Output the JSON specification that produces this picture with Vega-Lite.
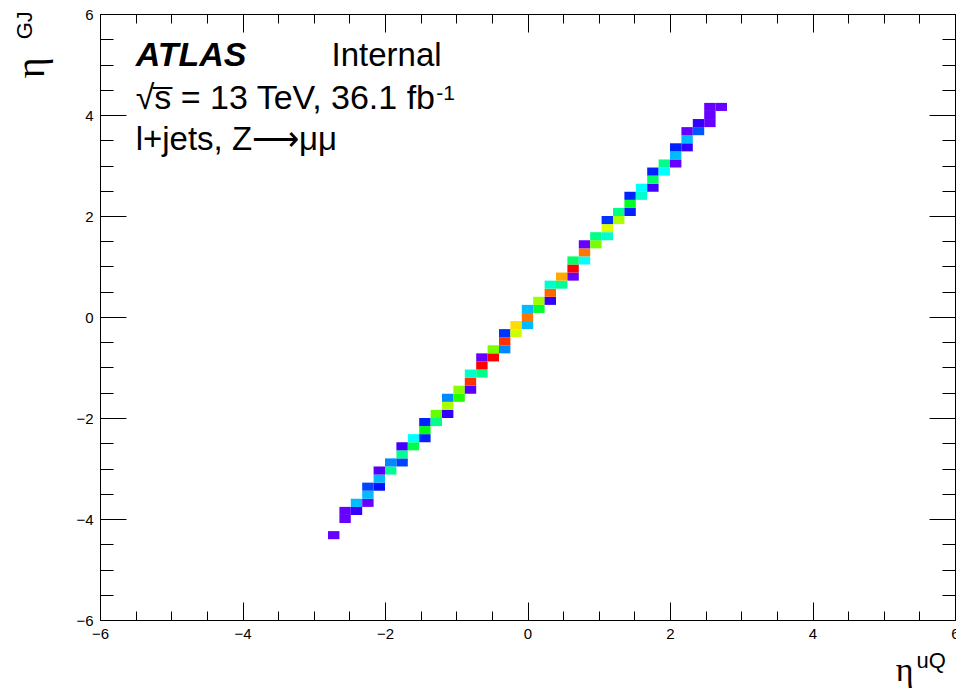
{
  "$schema": "https://vega.github.io/schema/vega-lite/v6.json",
  "width": 855,
  "height": 606,
  "autosize": {"type": "none"},
  "padding": {"left": 100, "top": 14, "right": 1, "bottom": 73},
  "background": "white",
  "config": {
    "view": {"stroke": "black", "strokeWidth": 1},
    "font": "Liberation Sans"
  },
  "resolve": {"axis": {"x": "independent", "y": "independent"}},
  "layer": [
    {
      "data": {"values": [
        {"eta_uQ_lo":-2.80,"eta_uQ_hi":-2.64,"eta_GJ_lo":-4.40,"eta_GJ_hi":-4.24,"z":0},
        {"eta_uQ_lo":-2.64,"eta_uQ_hi":-2.48,"eta_GJ_lo":-4.08,"eta_GJ_hi":-3.92,"z":0},
        {"eta_uQ_lo":-2.64,"eta_uQ_hi":-2.48,"eta_GJ_lo":-3.92,"eta_GJ_hi":-3.76,"z":0},
        {"eta_uQ_lo":-2.48,"eta_uQ_hi":-2.32,"eta_GJ_lo":-3.92,"eta_GJ_hi":-3.76,"z":12},
        {"eta_uQ_lo":-2.48,"eta_uQ_hi":-2.32,"eta_GJ_lo":-3.76,"eta_GJ_hi":-3.60,"z":68},
        {"eta_uQ_lo":-2.32,"eta_uQ_hi":-2.16,"eta_GJ_lo":-3.76,"eta_GJ_hi":-3.60,"z":0},
        {"eta_uQ_lo":-2.32,"eta_uQ_hi":-2.16,"eta_GJ_lo":-3.60,"eta_GJ_hi":-3.44,"z":68},
        {"eta_uQ_lo":-2.32,"eta_uQ_hi":-2.16,"eta_GJ_lo":-3.44,"eta_GJ_hi":-3.28,"z":40},
        {"eta_uQ_lo":-2.16,"eta_uQ_hi":-2.00,"eta_GJ_lo":-3.44,"eta_GJ_hi":-3.28,"z":28},
        {"eta_uQ_lo":-2.16,"eta_uQ_hi":-2.00,"eta_GJ_lo":-3.28,"eta_GJ_hi":-3.12,"z":68},
        {"eta_uQ_lo":-2.16,"eta_uQ_hi":-2.00,"eta_GJ_lo":-3.12,"eta_GJ_hi":-2.96,"z":4},
        {"eta_uQ_lo":-2.00,"eta_uQ_hi":-1.84,"eta_GJ_lo":-3.12,"eta_GJ_hi":-2.96,"z":110},
        {"eta_uQ_lo":-2.00,"eta_uQ_hi":-1.84,"eta_GJ_lo":-2.96,"eta_GJ_hi":-2.80,"z":56},
        {"eta_uQ_lo":-1.84,"eta_uQ_hi":-1.68,"eta_GJ_lo":-2.96,"eta_GJ_hi":-2.80,"z":40},
        {"eta_uQ_lo":-1.84,"eta_uQ_hi":-1.68,"eta_GJ_lo":-2.80,"eta_GJ_hi":-2.64,"z":110},
        {"eta_uQ_lo":-1.84,"eta_uQ_hi":-1.68,"eta_GJ_lo":-2.64,"eta_GJ_hi":-2.48,"z":8},
        {"eta_uQ_lo":-1.68,"eta_uQ_hi":-1.52,"eta_GJ_lo":-2.64,"eta_GJ_hi":-2.48,"z":126},
        {"eta_uQ_lo":-1.68,"eta_uQ_hi":-1.52,"eta_GJ_lo":-2.48,"eta_GJ_hi":-2.32,"z":84},
        {"eta_uQ_lo":-1.52,"eta_uQ_hi":-1.36,"eta_GJ_lo":-2.48,"eta_GJ_hi":-2.32,"z":32},
        {"eta_uQ_lo":-1.52,"eta_uQ_hi":-1.36,"eta_GJ_lo":-2.32,"eta_GJ_hi":-2.16,"z":140},
        {"eta_uQ_lo":-1.52,"eta_uQ_hi":-1.36,"eta_GJ_lo":-2.16,"eta_GJ_hi":-2.00,"z":32},
        {"eta_uQ_lo":-1.36,"eta_uQ_hi":-1.20,"eta_GJ_lo":-2.16,"eta_GJ_hi":-2.00,"z":112},
        {"eta_uQ_lo":-1.36,"eta_uQ_hi":-1.20,"eta_GJ_lo":-2.00,"eta_GJ_hi":-1.84,"z":168},
        {"eta_uQ_lo":-1.20,"eta_uQ_hi":-1.04,"eta_GJ_lo":-2.00,"eta_GJ_hi":-1.84,"z":12},
        {"eta_uQ_lo":-1.20,"eta_uQ_hi":-1.04,"eta_GJ_lo":-1.84,"eta_GJ_hi":-1.68,"z":184},
        {"eta_uQ_lo":-1.20,"eta_uQ_hi":-1.04,"eta_GJ_lo":-1.68,"eta_GJ_hi":-1.52,"z":56},
        {"eta_uQ_lo":-1.04,"eta_uQ_hi":-0.88,"eta_GJ_lo":-1.68,"eta_GJ_hi":-1.52,"z":152},
        {"eta_uQ_lo":-1.04,"eta_uQ_hi":-0.88,"eta_GJ_lo":-1.52,"eta_GJ_hi":-1.36,"z":176},
        {"eta_uQ_lo":-0.88,"eta_uQ_hi":-0.72,"eta_GJ_lo":-1.52,"eta_GJ_hi":-1.36,"z":4},
        {"eta_uQ_lo":-0.88,"eta_uQ_hi":-0.72,"eta_GJ_lo":-1.36,"eta_GJ_hi":-1.20,"z":252},
        {"eta_uQ_lo":-0.88,"eta_uQ_hi":-0.72,"eta_GJ_lo":-1.20,"eta_GJ_hi":-1.04,"z":96},
        {"eta_uQ_lo":-0.72,"eta_uQ_hi":-0.56,"eta_GJ_lo":-1.20,"eta_GJ_hi":-1.04,"z":112},
        {"eta_uQ_lo":-0.72,"eta_uQ_hi":-0.56,"eta_GJ_lo":-1.04,"eta_GJ_hi":-0.88,"z":264},
        {"eta_uQ_lo":-0.72,"eta_uQ_hi":-0.56,"eta_GJ_lo":-0.88,"eta_GJ_hi":-0.72,"z":0},
        {"eta_uQ_lo":-0.56,"eta_uQ_hi":-0.40,"eta_GJ_lo":-0.88,"eta_GJ_hi":-0.72,"z":264},
        {"eta_uQ_lo":-0.56,"eta_uQ_hi":-0.40,"eta_GJ_lo":-0.72,"eta_GJ_hi":-0.56,"z":172},
        {"eta_uQ_lo":-0.40,"eta_uQ_hi":-0.24,"eta_GJ_lo":-0.72,"eta_GJ_hi":-0.56,"z":56},
        {"eta_uQ_lo":-0.40,"eta_uQ_hi":-0.24,"eta_GJ_lo":-0.56,"eta_GJ_hi":-0.40,"z":252},
        {"eta_uQ_lo":-0.40,"eta_uQ_hi":-0.24,"eta_GJ_lo":-0.40,"eta_GJ_hi":-0.24,"z":36},
        {"eta_uQ_lo":-0.24,"eta_uQ_hi":-0.08,"eta_GJ_lo":-0.40,"eta_GJ_hi":-0.24,"z":192},
        {"eta_uQ_lo":-0.24,"eta_uQ_hi":-0.08,"eta_GJ_lo":-0.24,"eta_GJ_hi":-0.08,"z":212},
        {"eta_uQ_lo":-0.08,"eta_uQ_hi":0.08,"eta_GJ_lo":-0.24,"eta_GJ_hi":-0.08,"z":68},
        {"eta_uQ_lo":-0.08,"eta_uQ_hi":0.08,"eta_GJ_lo":-0.08,"eta_GJ_hi":0.08,"z":236},
        {"eta_uQ_lo":-0.08,"eta_uQ_hi":0.08,"eta_GJ_lo":0.08,"eta_GJ_hi":0.24,"z":68},
        {"eta_uQ_lo":0.08,"eta_uQ_hi":0.24,"eta_GJ_lo":0.08,"eta_GJ_hi":0.24,"z":132},
        {"eta_uQ_lo":0.08,"eta_uQ_hi":0.24,"eta_GJ_lo":0.24,"eta_GJ_hi":0.40,"z":180},
        {"eta_uQ_lo":0.24,"eta_uQ_hi":0.40,"eta_GJ_lo":0.24,"eta_GJ_hi":0.40,"z":12},
        {"eta_uQ_lo":0.24,"eta_uQ_hi":0.40,"eta_GJ_lo":0.40,"eta_GJ_hi":0.56,"z":240},
        {"eta_uQ_lo":0.24,"eta_uQ_hi":0.40,"eta_GJ_lo":0.56,"eta_GJ_hi":0.72,"z":96},
        {"eta_uQ_lo":0.40,"eta_uQ_hi":0.56,"eta_GJ_lo":0.56,"eta_GJ_hi":0.72,"z":108},
        {"eta_uQ_lo":0.40,"eta_uQ_hi":0.56,"eta_GJ_lo":0.72,"eta_GJ_hi":0.88,"z":224},
        {"eta_uQ_lo":0.56,"eta_uQ_hi":0.72,"eta_GJ_lo":0.72,"eta_GJ_hi":0.88,"z":0},
        {"eta_uQ_lo":0.56,"eta_uQ_hi":0.72,"eta_GJ_lo":0.88,"eta_GJ_hi":1.04,"z":264},
        {"eta_uQ_lo":0.56,"eta_uQ_hi":0.72,"eta_GJ_lo":1.04,"eta_GJ_hi":1.20,"z":120},
        {"eta_uQ_lo":0.72,"eta_uQ_hi":0.88,"eta_GJ_lo":1.04,"eta_GJ_hi":1.20,"z":84},
        {"eta_uQ_lo":0.72,"eta_uQ_hi":0.88,"eta_GJ_lo":1.20,"eta_GJ_hi":1.36,"z":236},
        {"eta_uQ_lo":0.72,"eta_uQ_hi":0.88,"eta_GJ_lo":1.36,"eta_GJ_hi":1.52,"z":0},
        {"eta_uQ_lo":0.88,"eta_uQ_hi":1.04,"eta_GJ_lo":1.36,"eta_GJ_hi":1.52,"z":172},
        {"eta_uQ_lo":0.88,"eta_uQ_hi":1.04,"eta_GJ_lo":1.52,"eta_GJ_hi":1.68,"z":112},
        {"eta_uQ_lo":1.04,"eta_uQ_hi":1.20,"eta_GJ_lo":1.52,"eta_GJ_hi":1.68,"z":96},
        {"eta_uQ_lo":1.04,"eta_uQ_hi":1.20,"eta_GJ_lo":1.68,"eta_GJ_hi":1.84,"z":196},
        {"eta_uQ_lo":1.04,"eta_uQ_hi":1.20,"eta_GJ_lo":1.84,"eta_GJ_hi":2.00,"z":36},
        {"eta_uQ_lo":1.20,"eta_uQ_hi":1.36,"eta_GJ_lo":1.84,"eta_GJ_hi":2.00,"z":184},
        {"eta_uQ_lo":1.20,"eta_uQ_hi":1.36,"eta_GJ_lo":2.00,"eta_GJ_hi":2.16,"z":112},
        {"eta_uQ_lo":1.36,"eta_uQ_hi":1.52,"eta_GJ_lo":2.00,"eta_GJ_hi":2.16,"z":32},
        {"eta_uQ_lo":1.36,"eta_uQ_hi":1.52,"eta_GJ_lo":2.16,"eta_GJ_hi":2.32,"z":136},
        {"eta_uQ_lo":1.36,"eta_uQ_hi":1.52,"eta_GJ_lo":2.32,"eta_GJ_hi":2.48,"z":32},
        {"eta_uQ_lo":1.52,"eta_uQ_hi":1.68,"eta_GJ_lo":2.32,"eta_GJ_hi":2.48,"z":96},
        {"eta_uQ_lo":1.52,"eta_uQ_hi":1.68,"eta_GJ_lo":2.48,"eta_GJ_hi":2.64,"z":84},
        {"eta_uQ_lo":1.68,"eta_uQ_hi":1.84,"eta_GJ_lo":2.48,"eta_GJ_hi":2.64,"z":8},
        {"eta_uQ_lo":1.68,"eta_uQ_hi":1.84,"eta_GJ_lo":2.64,"eta_GJ_hi":2.80,"z":120},
        {"eta_uQ_lo":1.68,"eta_uQ_hi":1.84,"eta_GJ_lo":2.80,"eta_GJ_hi":2.96,"z":32},
        {"eta_uQ_lo":1.84,"eta_uQ_hi":2.00,"eta_GJ_lo":2.80,"eta_GJ_hi":2.96,"z":84},
        {"eta_uQ_lo":1.84,"eta_uQ_hi":2.00,"eta_GJ_lo":2.96,"eta_GJ_hi":3.12,"z":112},
        {"eta_uQ_lo":2.00,"eta_uQ_hi":2.16,"eta_GJ_lo":2.96,"eta_GJ_hi":3.12,"z":0},
        {"eta_uQ_lo":2.00,"eta_uQ_hi":2.16,"eta_GJ_lo":3.12,"eta_GJ_hi":3.28,"z":68},
        {"eta_uQ_lo":2.00,"eta_uQ_hi":2.16,"eta_GJ_lo":3.28,"eta_GJ_hi":3.44,"z":32},
        {"eta_uQ_lo":2.16,"eta_uQ_hi":2.32,"eta_GJ_lo":3.28,"eta_GJ_hi":3.44,"z":12},
        {"eta_uQ_lo":2.16,"eta_uQ_hi":2.32,"eta_GJ_lo":3.44,"eta_GJ_hi":3.60,"z":68},
        {"eta_uQ_lo":2.16,"eta_uQ_hi":2.32,"eta_GJ_lo":3.60,"eta_GJ_hi":3.76,"z":0},
        {"eta_uQ_lo":2.32,"eta_uQ_hi":2.48,"eta_GJ_lo":3.60,"eta_GJ_hi":3.76,"z":44},
        {"eta_uQ_lo":2.32,"eta_uQ_hi":2.48,"eta_GJ_lo":3.76,"eta_GJ_hi":3.92,"z":12},
        {"eta_uQ_lo":2.48,"eta_uQ_hi":2.64,"eta_GJ_lo":3.76,"eta_GJ_hi":3.92,"z":0},
        {"eta_uQ_lo":2.48,"eta_uQ_hi":2.64,"eta_GJ_lo":3.92,"eta_GJ_hi":4.08,"z":0},
        {"eta_uQ_lo":2.48,"eta_uQ_hi":2.64,"eta_GJ_lo":4.08,"eta_GJ_hi":4.24,"z":0},
        {"eta_uQ_lo":2.64,"eta_uQ_hi":2.80,"eta_GJ_lo":4.08,"eta_GJ_hi":4.24,"z":0}
      ]},
      "mark": {"type": "rect", "strokeWidth": 0},
      "encoding": {
        "x": {"field": "eta_uQ_lo", "type": "quantitative",
              "scale": {"domain": [-6, 6], "nice": false, "zero": false},
              "axis": {"orient": "bottom", "title": null, "values": [-6, -4, -2, 0, 2, 4, 6], "format": "d",
                       "ticks": false, "tickSize": 0, "domain": false, "grid": false,
                       "labelFont": "Liberation Sans", "labelFontSize": 15, "labelColor": "black",
                       "labelPadding": 6, "labelFlush": false, "labelOverlap": false, "labelBound": false}},
        "x2": {"field": "eta_uQ_hi"},
        "y": {"field": "eta_GJ_lo", "type": "quantitative",
              "scale": {"domain": [-6, 6], "nice": false, "zero": false},
              "axis": {"orient": "left", "title": null, "values": [-6, -4, -2, 0, 2, 4, 6], "format": "d",
                       "ticks": false, "tickSize": 0, "domain": false, "grid": false,
                       "labelFont": "Liberation Sans", "labelFontSize": 15, "labelColor": "black",
                       "labelPadding": 7, "labelFlush": false, "labelOverlap": false, "labelBound": false}},
        "y2": {"field": "eta_GJ_hi"},
        "color": {"field": "z", "type": "quantitative", "legend": null,
                  "scale": {"type": "linear", "domain": [0, 84, 204, 264],
                            "range": ["#6600ff", "#00ffff", "#ffff00", "#ff0000"], "interpolate": "hsl"}}
      }
    },
    {
      "data": {"values": [{"label": "ATLAS", "eta_uQ": -5.5, "eta_GJ": 4.98}]},
      "mark": {"type": "text", "font": "Liberation Sans", "fontStyle": "italic", "fontWeight": "bold",
               "fontSize": 34, "align": "left", "baseline": "alphabetic", "color": "black"},
      "encoding": {
        "x": {"field": "eta_uQ", "type": "quantitative",
              "scale": {"domain": [-6, 6], "nice": false, "zero": false},
              "axis": {"orient": "bottom", "title": null, "labels": false, "domain": false, "grid": false,
                       "values": [-6, -5.5, -5, -4.5, -4, -3.5, -3, -2.5, -2, -1.5, -1, -0.5, 0, 0.5, 1, 1.5, 2, 2.5, 3, 3.5, 4, 4.5, 5, 5.5, 6],
                       "tickColor": "black", "tickWidth": 1,
                       "tickSize": {"condition": {"test": "datum.value % 2 === 0", "value": -18}, "value": -9}}},
        "y": {"field": "eta_GJ", "type": "quantitative",
              "scale": {"domain": [-6, 6], "nice": false, "zero": false},
              "axis": {"orient": "left", "title": null, "labels": false, "domain": false, "grid": false,
                       "values": [-6, -5.5, -5, -4.5, -4, -3.5, -3, -2.5, -2, -1.5, -1, -0.5, 0, 0.5, 1, 1.5, 2, 2.5, 3, 3.5, 4, 4.5, 5, 5.5, 6],
                       "tickColor": "black", "tickWidth": 1,
                       "tickSize": {"condition": {"test": "datum.value % 2 === 0", "value": -26}, "value": -13}}},
        "text": {"field": "label"}
      }
    },
    {
      "data": {"values": [
        {"label": "Internal", "eta_uQ": -2.75, "eta_GJ": 4.98},
        {"label": "l+jets, Z⟶μμ", "eta_uQ": -5.5, "eta_GJ": 3.31}
      ]},
      "mark": {"type": "text", "font": "Liberation Sans", "fontSize": 33, "align": "left",
               "baseline": "alphabetic", "color": "black"},
      "encoding": {
        "x": {"field": "eta_uQ", "type": "quantitative",
              "scale": {"domain": [-6, 6], "nice": false, "zero": false},
              "axis": {"orient": "top", "title": null, "labels": false, "domain": false, "grid": false,
                       "values": [-6, -5.5, -5, -4.5, -4, -3.5, -3, -2.5, -2, -1.5, -1, -0.5, 0, 0.5, 1, 1.5, 2, 2.5, 3, 3.5, 4, 4.5, 5, 5.5, 6],
                       "tickColor": "black", "tickWidth": 1,
                       "tickSize": {"condition": {"test": "datum.value % 2 === 0", "value": -18}, "value": -9}}},
        "y": {"field": "eta_GJ", "type": "quantitative",
              "scale": {"domain": [-6, 6], "nice": false, "zero": false},
              "axis": {"orient": "right", "title": null, "labels": false, "domain": false, "grid": false,
                       "values": [-6, -5.5, -5, -4.5, -4, -3.5, -3, -2.5, -2, -1.5, -1, -0.5, 0, 0.5, 1, 1.5, 2, 2.5, 3, 3.5, 4, 4.5, 5, 5.5, 6],
                       "tickColor": "black", "tickWidth": 1,
                       "tickSize": {"condition": {"test": "datum.value % 2 === 0", "value": -26}, "value": -13}}},
        "text": {"field": "label"}
      }
    },
    {
      "data": {"values": [{"label": "√s̅ = 13 TeV, 36.1 fb", "eta_uQ": -5.5, "eta_GJ": 4.11}]},
      "mark": {"type": "text", "font": "Liberation Sans", "fontSize": 34, "align": "left",
               "baseline": "alphabetic", "color": "black"},
      "encoding": {
        "x": {"field": "eta_uQ", "type": "quantitative", "scale": {"domain": [-6, 6], "nice": false, "zero": false}, "axis": null},
        "y": {"field": "eta_GJ", "type": "quantitative", "scale": {"domain": [-6, 6], "nice": false, "zero": false}, "axis": null},
        "text": {"field": "label"}
      }
    },
    {
      "data": {"values": [{"label": "-1", "eta_uQ": -1.28, "eta_GJ": 4.3}]},
      "mark": {"type": "text", "font": "Liberation Sans", "fontSize": 21, "align": "left",
               "baseline": "alphabetic", "color": "black"},
      "encoding": {
        "x": {"field": "eta_uQ", "type": "quantitative", "scale": {"domain": [-6, 6], "nice": false, "zero": false}, "axis": null},
        "y": {"field": "eta_GJ", "type": "quantitative", "scale": {"domain": [-6, 6], "nice": false, "zero": false}, "axis": null},
        "text": {"field": "label"}
      }
    },
    {
      "data": {"values": [{"label": "η", "eta_uQ": 5.17, "eta_GJ": -7.21}]},
      "mark": {"type": "text", "font": "Liberation Serif", "fontSize": 34, "align": "left",
               "baseline": "alphabetic", "color": "black"},
      "encoding": {
        "x": {"field": "eta_uQ", "type": "quantitative", "scale": {"domain": [-6, 6], "nice": false, "zero": false}, "axis": null},
        "y": {"field": "eta_GJ", "type": "quantitative", "scale": {"domain": [-6, 6], "nice": false, "zero": false}, "axis": null},
        "text": {"field": "label"}
      }
    },
    {
      "data": {"values": [{"label": "uQ", "eta_uQ": 5.46, "eta_GJ": -6.95}]},
      "mark": {"type": "text", "font": "Liberation Sans", "fontSize": 22, "align": "left",
               "baseline": "alphabetic", "color": "black"},
      "encoding": {
        "x": {"field": "eta_uQ", "type": "quantitative", "scale": {"domain": [-6, 6], "nice": false, "zero": false}, "axis": null},
        "y": {"field": "eta_GJ", "type": "quantitative", "scale": {"domain": [-6, 6], "nice": false, "zero": false}, "axis": null},
        "text": {"field": "label"}
      }
    },
    {
      "data": {"values": [{"label": "η", "eta_uQ": -6.78, "eta_GJ": 4.73}]},
      "mark": {"type": "text", "font": "Liberation Serif", "fontSize": 40, "align": "left",
               "baseline": "alphabetic", "angle": 270, "color": "black"},
      "encoding": {
        "x": {"field": "eta_uQ", "type": "quantitative", "scale": {"domain": [-6, 6], "nice": false, "zero": false}, "axis": null},
        "y": {"field": "eta_GJ", "type": "quantitative", "scale": {"domain": [-6, 6], "nice": false, "zero": false}, "axis": null},
        "text": {"field": "label"}
      }
    },
    {
      "data": {"values": [{"label": "GJ", "eta_uQ": -6.95, "eta_GJ": 5.5}]},
      "mark": {"type": "text", "font": "Liberation Sans", "fontSize": 22, "align": "left",
               "baseline": "alphabetic", "angle": 270, "color": "black"},
      "encoding": {
        "x": {"field": "eta_uQ", "type": "quantitative", "scale": {"domain": [-6, 6], "nice": false, "zero": false}, "axis": null},
        "y": {"field": "eta_GJ", "type": "quantitative", "scale": {"domain": [-6, 6], "nice": false, "zero": false}, "axis": null},
        "text": {"field": "label"}
      }
    }
  ]
}
